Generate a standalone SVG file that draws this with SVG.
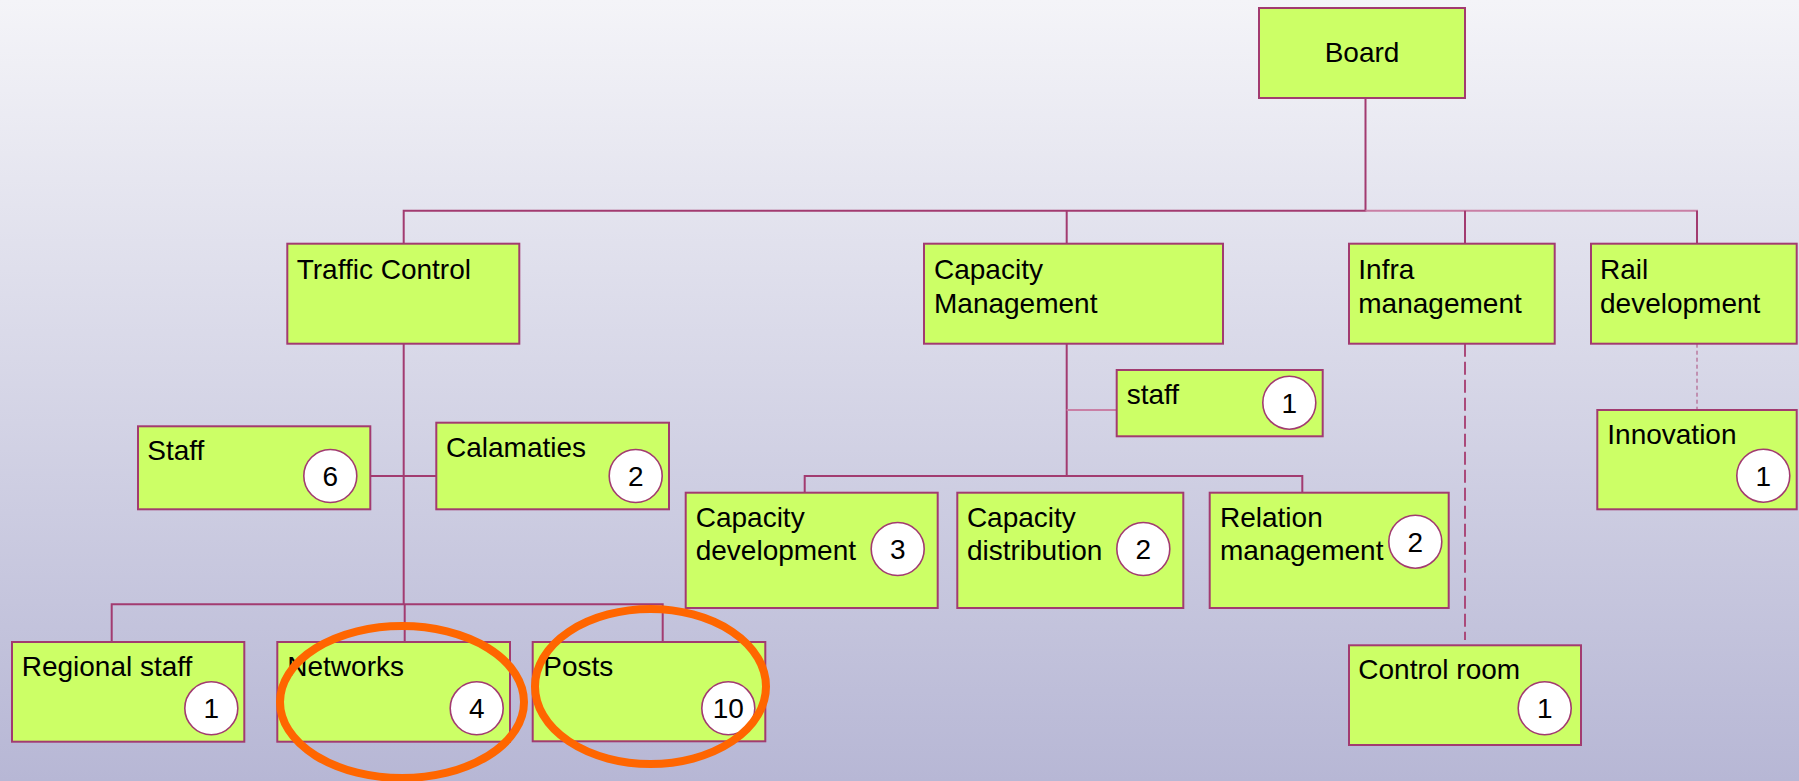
<svg xmlns="http://www.w3.org/2000/svg" width="1799" height="781" viewBox="0 0 1799 781">
  <defs>
    <linearGradient id="bg" x1="0" y1="0" x2="0" y2="1">
      <stop offset="0" stop-color="#F4F4F8"/>
      <stop offset="1" stop-color="#B7B7D5"/>
    </linearGradient>
    <style>
      .box { fill: #CCFF66; stroke: #A23B70; stroke-width: 2; }
      .lbl { font-family: "Liberation Sans", Arial, sans-serif; font-size: 28px; fill: #000; }
      .num { font-family: "Liberation Sans", Arial, sans-serif; font-size: 28px; fill: #000; text-anchor: middle; }
      .badge { fill: #FFFFFF; stroke: #A23B70; stroke-width: 1.6; }
      .ln { fill: none; stroke: #A23B70; stroke-width: 2; }
      .ln-light { fill: none; stroke: #C97FA5; stroke-width: 2; }
      .dash { fill: none; stroke: #AA4A7A; stroke-width: 2; stroke-dasharray: 13 5; }
      .dot { fill: none; stroke: #AA4A7A; stroke-width: 1; stroke-dasharray: 4 3; }
      .mark { fill: none; stroke: #FF6600; stroke-width: 8; }
    </style>
  </defs>

  <rect x="0" y="0" width="1799" height="781" fill="url(#bg)"/>

  <!-- connectors -->
  <g id="connectors">
    <path class="ln" d="M1365.5 98 V210.7 H403.7 V243.7"/>
    <path class="ln-light" d="M1365.5 210.7 H1697 V243.7"/>
    <path class="ln" d="M1066.7 210.7 V243.7"/>
    <path class="ln" d="M1465 210.7 V243.7"/>
    <path class="ln" d="M1697 210.7 V243.7"/>
    <!-- Traffic Control branch -->
    <path class="ln" d="M403.7 343.7 V604.3"/>
    <path class="ln" d="M370.3 476 H436.3"/>
    <path class="ln" d="M111.7 642 V604.3 H662.7 V642"/>
    <path class="ln" d="M404.7 604.3 V642"/>
    <!-- Capacity Management branch -->
    <path class="ln" d="M1066.7 343.7 V476"/>
    <path class="ln-light" d="M1066.7 410 H1116.7"/>
    <path class="ln" d="M804.7 492.7 V476 H1302.3 V492.7"/>
    <!-- dashed links -->
    <path class="dash" d="M1465 343.7 V640"/>
    <path class="dot" d="M1697 343.7 V410"/>
  </g>

  <g id="board">
    <rect class="box" x="1259" y="8" width="206" height="90"/>
    <text class="lbl" x="1362" y="61.5" text-anchor="middle">Board</text>
  </g>

  <g id="traffic-control">
    <rect class="box" x="287.3" y="243.7" width="232" height="100"/>
    <text class="lbl" x="296.7" y="279.3">Traffic Control</text>
  </g>

  <g id="capacity-management">
    <rect class="box" x="924" y="243.7" width="299" height="100"/>
    <text class="lbl" x="934" y="278.7">Capacity</text>
    <text class="lbl" x="934" y="312.7">Management</text>
  </g>

  <g id="infra-management">
    <rect class="box" x="1349" y="243.7" width="205.7" height="100"/>
    <text class="lbl" x="1358.3" y="278.7">Infra</text>
    <text class="lbl" x="1358.3" y="312.7">management</text>
  </g>

  <g id="rail-development">
    <rect class="box" x="1591" y="243.7" width="205.7" height="100"/>
    <text class="lbl" x="1600" y="278.7">Rail</text>
    <text class="lbl" x="1600" y="312.7">development</text>
  </g>

  <g id="tc-staff">
    <rect class="box" x="138" y="426.3" width="232.3" height="83"/>
    <text class="lbl" x="147.3" y="460">Staff</text>
    <circle class="badge" cx="330.3" cy="476" r="26.5"/>
    <text class="num" x="330.3" y="486">6</text>
  </g>

  <g id="calamaties">
    <rect class="box" x="436.3" y="422.7" width="232.7" height="86.6"/>
    <text class="lbl" x="446" y="456.7">Calamaties</text>
    <circle class="badge" cx="635.7" cy="476" r="26.5"/>
    <text class="num" x="635.7" y="486">2</text>
  </g>

  <g id="cm-staff">
    <rect class="box" x="1116.7" y="370" width="206" height="66.3"/>
    <text class="lbl" x="1126.7" y="404">staff</text>
    <circle class="badge" cx="1289.3" cy="402.7" r="26.5"/>
    <text class="num" x="1289.3" y="412.7">1</text>
  </g>

  <g id="capacity-development">
    <rect class="box" x="685.7" y="492.7" width="252" height="115.3"/>
    <text class="lbl" x="695.7" y="526.7">Capacity</text>
    <text class="lbl" x="695.7" y="560">development</text>
    <circle class="badge" cx="897.7" cy="549" r="26.5"/>
    <text class="num" x="897.7" y="559">3</text>
  </g>

  <g id="capacity-distribution">
    <rect class="box" x="957.3" y="492.7" width="226" height="115.3"/>
    <text class="lbl" x="966.9" y="526.7">Capacity</text>
    <text class="lbl" x="966.9" y="560">distribution</text>
    <circle class="badge" cx="1143.3" cy="549" r="26.5"/>
    <text class="num" x="1143.3" y="559">2</text>
  </g>

  <g id="relation-management">
    <rect class="box" x="1209.7" y="492.7" width="239" height="115.3"/>
    <text class="lbl" x="1220" y="526.7">Relation</text>
    <text class="lbl" x="1220" y="560">management</text>
    <circle class="badge" cx="1415.3" cy="541.7" r="26.5"/>
    <text class="num" x="1415.3" y="551.7">2</text>
  </g>

  <g id="innovation">
    <rect class="box" x="1597.3" y="410" width="199.4" height="99.3"/>
    <text class="lbl" x="1607.3" y="444.3">Innovation</text>
    <circle class="badge" cx="1763.3" cy="475.7" r="26.5"/>
    <text class="num" x="1763.3" y="485.7">1</text>
  </g>

  <g id="regional-staff">
    <rect class="box" x="12" y="642" width="232.3" height="99.7"/>
    <text class="lbl" x="21.7" y="675.7">Regional staff</text>
    <circle class="badge" cx="211.3" cy="708.3" r="26.5"/>
    <text class="num" x="211.3" y="718.3">1</text>
  </g>

  <g id="networks">
    <rect class="box" x="277.3" y="642" width="232.7" height="99.7"/>
    <text class="lbl" x="287.3" y="675.7">Networks</text>
    <circle class="badge" cx="476.7" cy="708.3" r="26.5"/>
    <text class="num" x="476.7" y="718.3">4</text>
  </g>

  <g id="posts">
    <rect class="box" x="532.7" y="642" width="232.6" height="99.3"/>
    <text class="lbl" x="543.3" y="676">Posts</text>
    <circle class="badge" cx="728.3" cy="708.3" r="26.5"/>
    <text class="num" x="728.3" y="718.3">10</text>
  </g>

  <g id="control-room">
    <rect class="box" x="1349" y="645.3" width="232" height="99.7"/>
    <text class="lbl" x="1358.3" y="679.3">Control room</text>
    <circle class="badge" cx="1544.7" cy="708.3" r="26.5"/>
    <text class="num" x="1544.7" y="718.3">1</text>
  </g>

  <!-- highlight rings -->
  <g id="highlights">
    <ellipse class="mark" cx="402" cy="702" rx="122" ry="76"/>
    <ellipse class="mark" cx="650.5" cy="686.5" rx="115.5" ry="77.5"/>
  </g>
</svg>
